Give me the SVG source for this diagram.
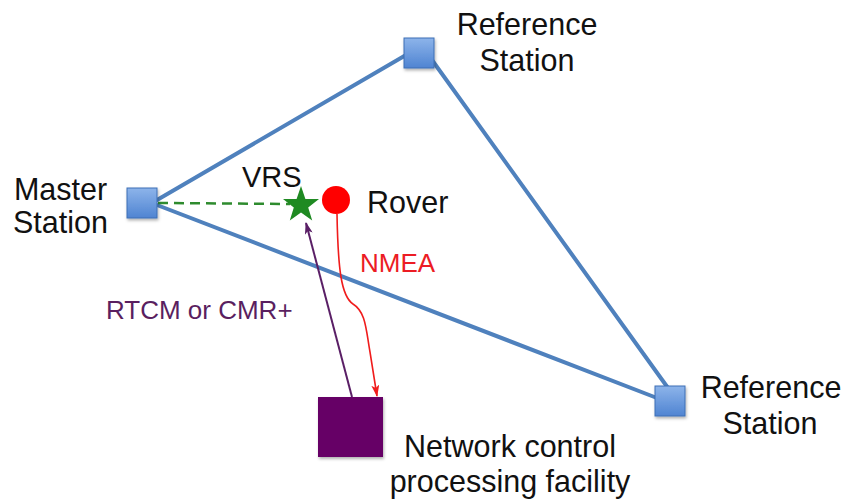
<svg xmlns="http://www.w3.org/2000/svg" width="845" height="502" viewBox="0 0 845 502">
  <defs>
    <linearGradient id="sq" x1="0" y1="0" x2="0" y2="1">
      <stop offset="0" stop-color="#8db4ea"/>
      <stop offset="1" stop-color="#4f84d2"/>
    </linearGradient>
    <filter id="sh" x="-20%" y="-20%" width="150%" height="150%">
      <feDropShadow dx="1" dy="2" stdDeviation="1.5" flood-color="#000" flood-opacity="0.3"/>
    </filter>
    <marker id="arRed" viewBox="0 0 12 8" refX="11" refY="4" markerWidth="12" markerHeight="8" markerUnits="userSpaceOnUse" orient="auto">
      <path d="M0,0 L12,4 L0,8 L3,4 Z" fill="#f01c1c"/>
    </marker>
    <marker id="arPur" viewBox="0 0 12 8" refX="11" refY="4" markerWidth="12" markerHeight="8" markerUnits="userSpaceOnUse" orient="auto">
      <path d="M0,0 L12,4 L0,8 L3,4 Z" fill="#5a1f66"/>
    </marker>
  </defs>
  <style>
    .lbl { font-family: "Liberation Sans", Arial, sans-serif; font-size: 30.5px; fill: #111111; }
    .sm { font-size: 26px; }
    .station { fill: url(#sq); stroke: #3d6fb5; stroke-width: 1; filter: url(#sh); }
    .link { stroke: #4f81bd; stroke-width: 4; fill: none; stroke-linecap: round; }
  </style>
  <rect width="845" height="502" fill="#ffffff"/>

  <g id="connectors">
    <line class="link" x1="157" y1="200" x2="406" y2="55"/>
    <line class="link" x1="432" y1="60" x2="668" y2="388"/>
    <line class="link" x1="157" y1="205" x2="657" y2="398"/>
    <line x1="158" y1="203" x2="290" y2="204" stroke="#2e8b2e" stroke-width="2.5" stroke-dasharray="10 6"/>
    <line x1="352" y1="397" x2="306" y2="223" stroke="#5a1f66" stroke-width="2" marker-end="url(#arPur)"/>
    <path d="M337,214 C338,268 341,296 353,304 C366,312 366,330 370,352 L377,396" fill="none" stroke="#f01c1c" stroke-width="1.6" marker-end="url(#arRed)"/>
    <text class="lbl sm" x="360" y="272" style="fill:#ec1c24">NMEA</text>
    <text class="lbl sm" x="106" y="319" style="fill:#5a1f60">RTCM or CMR+</text>
  </g>

  <g id="master">
    <rect class="station" x="127" y="188" width="30" height="30"/>
    <text class="lbl" text-anchor="middle" x="60.5" y="200">Master</text>
    <text class="lbl" text-anchor="middle" x="60.5" y="233">Station</text>
  </g>

  <g id="ref-top">
    <rect class="station" x="404" y="38" width="30" height="30"/>
    <text class="lbl" text-anchor="middle" x="527" y="35">Reference</text>
    <text class="lbl" text-anchor="middle" x="527" y="71">Station</text>
  </g>

  <g id="ref-bottom">
    <rect class="station" x="655" y="386" width="30" height="30"/>
    <text class="lbl" text-anchor="middle" x="771" y="398">Reference</text>
    <text class="lbl" text-anchor="middle" x="770" y="434">Station</text>
  </g>

  <g id="vrs">
    <polygon points="301,186 305.4,198.9 319,199.1 308.2,207.4 312.2,220.5 301,212.6 289.8,220.5 293.8,207.4 283,199.1 296.6,198.9" fill="#1f8a22"/>
    <text class="lbl" x="242" y="187" style="font-size:29px">VRS</text>
  </g>

  <g id="rover">
    <circle cx="336" cy="200" r="14" fill="#ff0000"/>
    <text class="lbl" x="367" y="213">Rover</text>
  </g>

  <g id="ncpf">
    <rect x="318" y="397" width="65" height="60" fill="#660066" filter="url(#sh)"/>
    <text class="lbl" text-anchor="middle" x="510" y="457">Network control</text>
    <text class="lbl" text-anchor="middle" x="510" y="492">processing facility</text>
  </g>
</svg>
